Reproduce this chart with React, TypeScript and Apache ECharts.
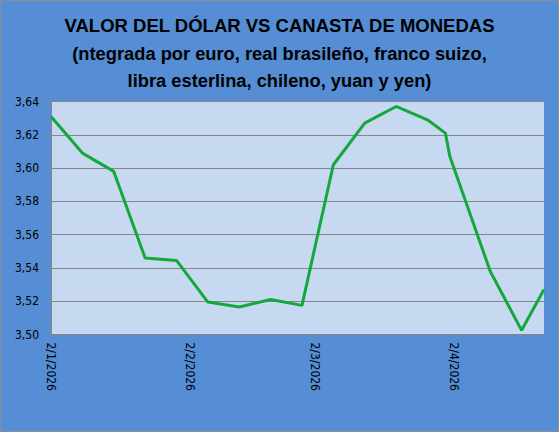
import React, { useEffect, useRef } from "react";
import * as echarts from "echarts";

const titleLine = "VALOR DEL DÓLAR VS CANASTA DE MONEDAS";
const subtitleLines = [
  "(ntegrada por euro, real brasileño, franco suizo,",
  "libra esterlina, chileno, yuan y yen)",
];

// dates as [year, month(1-12), day]
const dates: [number, number, number][] = [
  [2026, 1, 2], [2026, 1, 9], [2026, 1, 16], [2026, 1, 23], [2026, 1, 30],
  [2026, 2, 6], [2026, 2, 13], [2026, 2, 20], [2026, 2, 27],
  [2026, 3, 6], [2026, 3, 13], [2026, 3, 20], [2026, 3, 27], [2026, 3, 31],
  [2026, 4, 1], [2026, 4, 10], [2026, 4, 17], [2026, 4, 22],
];
const values = [
  3.631, 3.609, 3.598, 3.546, 3.5445,
  3.5195, 3.5165, 3.521, 3.5175,
  3.602, 3.627, 3.637, 3.629, 3.621,
  3.607, 3.538, 3.5025, 3.527,
];
const tickDates: [number, number, number][] = [
  [2026, 1, 2], [2026, 2, 2], [2026, 3, 2], [2026, 4, 2],
];
const yMin = 3.5;
const yMax = 3.64;
const yStep = 0.02;

const DAY = 86400000;
const ts = (d: [number, number, number]) => Date.UTC(d[0], d[1] - 1, d[2]) / DAY;

export default function App() {
  const ref = useRef<HTMLDivElement>(null);
  useEffect(() => {
    if (!ref.current) return;
    const chart = echarts.init(ref.current, undefined, { renderer: "svg" });
    const labelFont = "'DejaVu Sans Condensed', 'DejaVu Sans', sans-serif";
    const titleFont = "'Liberation Sans', Arial, sans-serif";
    chart.setOption({
      animation: false,
      backgroundColor: "#558ED5",
      title: {
        left: "center",
        top: 12.5,
        padding: 0,
        text: titleLine,
        subtext: subtitleLines.join("\n"),
        itemGap: 1,
        textStyle: {
          fontFamily: titleFont,
          fontWeight: "bold",
          fontSize: 18.5,
          lineHeight: 26,
          color: "#000",
        },
        subtextStyle: {
          fontFamily: titleFont,
          fontWeight: "bold",
          fontSize: 18.3,
          lineHeight: 27,
          color: "#000",
          align: "center",
        },
      },
      graphic: [
        {
          type: "rect",
          shape: { x: 0.5, y: 0.5, width: 558, height: 431 },
          style: { fill: "none", stroke: "#8c8c8c", lineWidth: 1 },
          silent: true,
        },
      ],
      grid: {
        left: 51,
        right: 15,
        top: 101.5,
        bottom: 97.5,
        show: true,
        backgroundColor: "#C6D9F1",
        borderWidth: 0,
      },
      xAxis: {
        type: "value",
        min: ts(dates[0]),
        max: ts(dates[dates.length - 1]),
        axisLine: { show: true, lineStyle: { color: "#868686", width: 1 } },
        axisTick: {
          show: true,
          length: 4,
          lineStyle: { color: "#868686" },
          customValues: tickDates.map(ts),
        },
        splitLine: { show: false },
        axisLabel: {
          customValues: tickDates.map(ts),
          rotate: -90,
          margin: 8,
          color: "#000",
          fontFamily: labelFont,
          fontSize: 12,
          formatter: (v: number) => {
            const d = new Date(Math.round(v) * DAY);
            return `${d.getUTCDate()}/${d.getUTCMonth() + 1}/${d.getUTCFullYear()}`;
          },
        },
      },
      yAxis: {
        type: "value",
        min: yMin,
        max: yMax,
        interval: yStep,
        axisLine: { show: true, lineStyle: { color: "#868686", width: 1 } },
        axisTick: { show: true, length: 4, lineStyle: { color: "#868686" } },
        splitLine: { show: true, lineStyle: { color: "#868686", width: 1 } },
        axisLabel: {
          margin: 12,
          color: "#000",
          fontFamily: labelFont,
          fontSize: 12,
          formatter: (v: number) => v.toFixed(2).replace(".", ","),
        },
      },
      series: [
        {
          type: "line",
          data: dates.map((d, i) => [ts(d), values[i]]),
          showSymbol: false,
          symbol: "none",
          lineStyle: { color: "#14A83C", width: 3 },
          itemStyle: { color: "#14A83C" },
        },
      ],
    });
    return () => chart.dispose();
  }, []);
  return (
    <div
      ref={ref}
      style={{ position: "fixed", left: 0, top: 0, width: 559, height: 432 }}
    />
  );
}
